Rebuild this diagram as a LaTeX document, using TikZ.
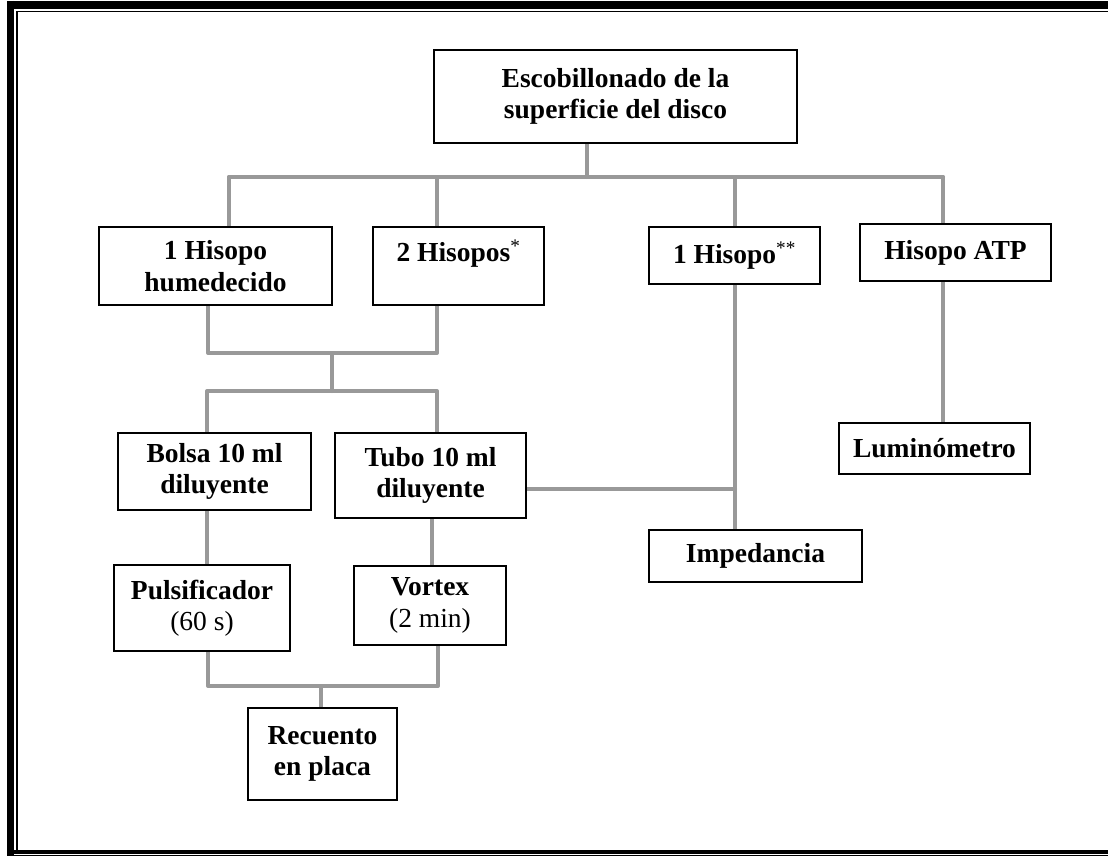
\documentclass[tikz,border=0pt]{standalone}
\usepackage{fontspec}
\setmainfont{Liberation Serif}
\definecolor{linkgray}{RGB}{153,153,153}
\pgfdeclarelayer{background}
\pgfsetlayers{background,main}
\begin{document}
\begin{tikzpicture}[x=1pt,y=-1pt,
  box/.style={draw=black, line width=1.6pt, fill=white, align=center,
    inner sep=0pt, font=\fontsize{27.5}{31.5}\selectfont\bfseries},
  link/.style={draw=linkgray, line width=4pt, line cap=round, line join=round},
  frame/.style={draw=black}]
\useasboundingbox (0,0) rectangle (1108,856);

% page frame: heavy outer rule with a thin rule inside it
\draw[frame, line width=7pt] (10.5,1) -- (10.5,856);
\draw[frame, line width=8pt] (7,5) -- (1108,5);
\draw[frame, line width=1.5pt] (16.8,11.3) -- (16.8,850);
\draw[frame, line width=1.5pt] (16.8,11.3) -- (1108,11.3);
\draw[frame, line width=4pt] (7,852) -- (1108,852);
\draw[frame, line width=1pt] (7,855.8) -- (1108,855.8);

% boxes
\node[box, minimum width=363, minimum height=93] (top) at (615.5,96.5)
  {Escobillonado de la\\superficie del disco};
\node[box, minimum width=233, minimum height=78] (b1) at (215.5,266)
  {1 Hisopo\\humedecido};
\node[box, minimum width=171, minimum height=78] (b2) at (458.5,266)
  {2 Hisopos\textsuperscript{\mdseries *}\\\mbox{}};
\node[box, minimum width=171, minimum height=57] (b3) at (734.5,255.5)
  {1 Hisopo\textsuperscript{\mdseries **}};
\node[box, minimum width=191, minimum height=57] (b4) at (955.5,252.5)
  {Hisopo ATP};
\node[box, minimum width=193, minimum height=77] (b5) at (214.5,471.5)
  {Bolsa 10 ml\\diluyente};
\node[box, minimum width=191, minimum height=85] (b6) at (430.5,475.5)
  {Tubo 10 ml\\diluyente};
\node[box, minimum width=176, minimum height=86] (pul) at (202,608)
  {Pulsificador\\{\mdseries (60 s)}};
\node[box, minimum width=152, minimum height=79] (vor) at (430,605.5)
  {Vortex\\{\mdseries (2 min)}};
\node[box, minimum width=149, minimum height=92] (rec) at (322.5,754)
  {Recuento\\en placa};
\node[box, minimum width=213, minimum height=52] (imp) at (755.5,556)
  {Impedancia};
\node[box, minimum width=191, minimum height=51] (lum) at (934.5,448.5)
  {Luminómetro};

% junction points
\coordinate (j0) at (587,177);
\coordinate (jL) at (229,177);
\coordinate (j2) at (437,177);
\coordinate (j3) at (735,177);
\coordinate (jR) at (943,177);
\coordinate (m1L) at (208,353);
\coordinate (m1C) at (332,353);
\coordinate (m1R) at (437,353);
\coordinate (m2L) at (207,391);
\coordinate (m2C) at (332,391);
\coordinate (m2R) at (437,391);
\coordinate (c5) at (207,540);
\coordinate (c6) at (432,540);
\coordinate (m3L) at (208,686);
\coordinate (m3C) at (321,686);
\coordinate (m3R) at (438,686);
\coordinate (t1) at (735,489);

% connectors
\begin{pgfonlayer}{background}
\draw[link] (top.south -| j0) -- (j0);
\draw[link] (jL) -- (jR);
\draw[link] (jL) -- (b1.north -| jL);
\draw[link] (j2) -- (b2.north -| j2);
\draw[link] (j3) -- (b3.north -| j3);
\draw[link] (jR) -- (b4.north -| jR);
\draw[link] (b1.south -| m1L) -- (m1L) -- (m1R) -- (b2.south -| m1R);
\draw[link] (m1C) -- (m2C);
\draw[link] (b5.north -| m2L) -- (m2L) -- (m2R) -- (b6.north -| m2R);
\draw[link] (b5.south -| c5) -- (pul.north -| c5);
\draw[link] (b6.south -| c6) -- (vor.north -| c6);
\draw[link] (pul.south -| m3L) -- (m3L) -- (m3R) -- (vor.south -| m3R);
\draw[link] (m3C) -- (rec.north -| m3C);
\draw[link] (b3.south -| j3) -- (imp.north -| j3);
\draw[link] (b6.east |- t1) -- (t1);
\draw[link] (b4.south -| jR) -- (lum.north -| jR);
\end{pgfonlayer}
\end{tikzpicture}
\end{document}
